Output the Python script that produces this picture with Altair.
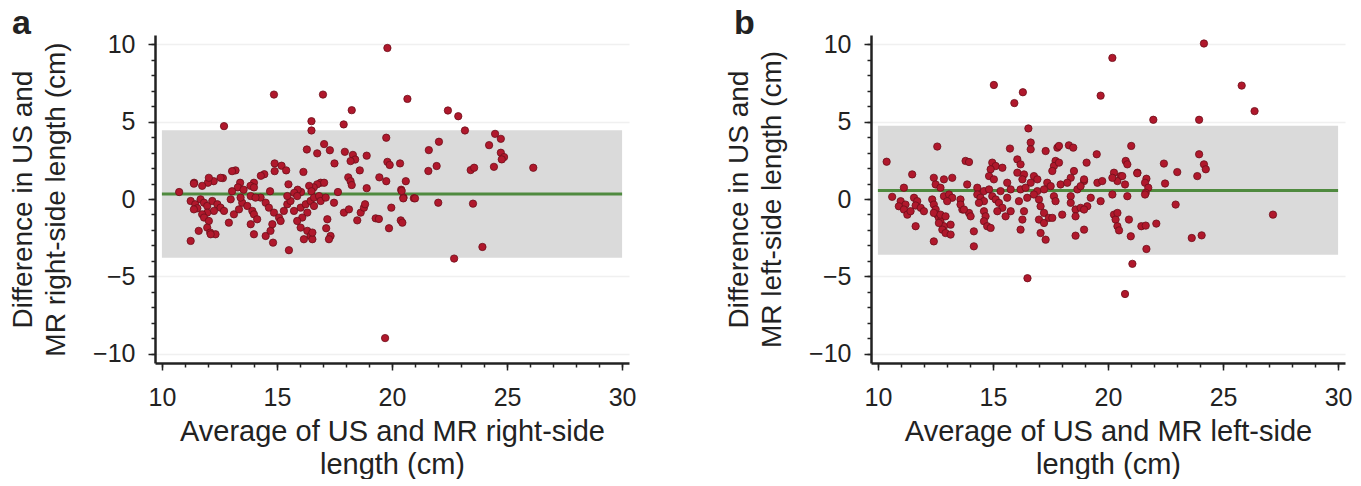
import altair as alt
import pandas as pd

# ---------------- data ----------------
a_x = [19.75,16.3,16.75,17.05,17.3,17.95,18.3,18.4,18.2,18.9,17.5,14.9,15.2,15.4,14.9,16.15,13.2,13.05,19.8,19.9,
       20.35,18.6,18.1,18.2,18.25,19.45,19.75,20.6,18.9,17.65,20.4,20.5,20.95,16.9,17.05,16.75,16.6,16.4,16.5,16.05,
       15.9,15.75,15.5,14.45,14.3,14.0,13.85,14.0,13.4,13.3,12.65,12.25,12.0,11.75,11.4,10.75,13.05,13.55,14.7,
       11.25,11.45,11.68,11.83,11.97,12.19,12.41,12.55,12.7,12.26,11.97,11.75,11.54,11.39,
       11.83,12.04,11.97,11.6,12.1,12.33,11.25,
       12.91,13.13,13.35,13.49,13.71,13.93,14.0,14.14,13.86,14.0,14.51,14.72,
       14.29,14.51,14.65,14.87,15.09,15.3,15.45,15.59,15.16,14.8,
       15.74,16.03,16.25,16.46,16.61,16.32,16.1,15.88,16.03,16.32,16.46,16.17,16.54,
       15.52,16.61,16.83,16.9,17.12,17.19,17.14,17.33,17.26,
       17.48,17.91,18.13,18.49,18.64,18.78,19.29,19.87,19.97,20.38,
       12.99,13.42,15.45,15.88,13.86,14.07,
       19.8,14.87,17.0,18.25,12.7,16.5,16.5,17.9,
       20.67,22.43,22.88,23.17,24.48,24.73,24.22,24.73,24.87,24.77,24.43,26.14,22.04,21.6,21.58,21.94,23.42,23.57,
       20.42,20.49,21.0,22.01,23.52,20.45,23.93,22.7,19.7,19.43,
       11.39,12.04,12.55,12.12,14.83,16.54,18.83]
a_y = [3.96,3.2,2.95,3.55,3.15,3.05,2.85,2.55,2.45,2.8,2.3,2.3,2.15,1.85,1.8,1.75,1.85,1.8,2.4,2.2,
       2.3,1.85,1.4,1.15,0.9,1.4,1.15,1.15,0.7,0.45,0.6,0.1,0.05,1.05,1.05,0.95,0.75,0.85,0.5,0.45,
       0.6,0.4,0.95,1.6,1.5,1.05,0.85,0.75,1.05,0.75,1.35,1.15,1.05,0.85,1.05,0.45,0.5,0.6,0.5,
       -0.13,-0.34,-0.02,-0.24,-0.45,-0.13,-0.34,-0.56,-0.77,-0.77,-0.88,-0.99,-0.6,-0.67,
       -1.2,-1.42,-1.85,-2.06,-2.17,-2.28,-2.71,
       -1.53,-0.99,-0.67,-0.24,-0.45,-0.77,-0.99,-1.31,-1.63,-2.28,-2.39,-2.06,
       0.09,-0.24,-0.56,-0.88,-1.2,-0.77,-0.34,-0.13,-1.42,-1.63,
       -0.77,-0.56,-0.34,-0.13,-0.45,-0.88,-1.2,-1.42,-1.85,-2.06,-2.39,-2.6,-2.6,
       -3.31,0.09,0.19,-0.13,0.09,-1.31,-1.89,-2.39,-2.6,
       -0.24,-0.88,-0.67,-1.38,-0.88,-0.56,-1.25,-1.89,-0.56,-1.38,
       -0.02,0.09,0.19,0.19,0.19,0.09,
       9.76,6.75,6.75,5.74,4.71,5.03,4.43,4.82,
       6.47,5.72,5.35,4.43,4.21,3.89,3.48,2.99,2.71,2.56,2.08,2.02,3.7,3.16,1.81,2.13,1.87,2.02,
       0.52,0.04,0.04,-0.24,-0.3,-1.53,-3.1,-3.85,-8.99,-1.29,
       0.99,1.37,1.37,-2.28,-2.82,-2.17,-0.34]

b_x = [16.54,12.58,10.38,15.74,16.64,16.64,17.29,17.8,18.3,18.49,19.51,21.01,13.81,13.96,14.97,15.12,14.9,14.83,15.04,15.41,
       16.06,16.2,16.06,16.35,16.28,16.78,16.93,16.64,17.72,17.65,17.58,17.87,18.52,18.38,19.07,20.26,20.55,20.41,20.77,20.84,
       21.28,11.49,12.43,12.87,13.23,12.51,12.72,11.13,13.88,14.32,15.62,15.77,15.33,17.36,17.51,17.94,18.23,18.96,19.54,19.75,
       20.19,14.61,14.83,16.2,16.42,16.93,17.22,18.67,18.81,
       10.62,10.99,11.2,10.91,11.13,11.28,11.42,11.57,11.71,11.64,11.86,12.0,11.64,
       12.36,12.43,12.51,12.58,12.65,12.72,12.87,12.8,12.94,13.16,13.16,12.43,
       12.87,13.09,13.23,13.01,13.59,13.67,13.96,14.03,14.17,14.17,
       14.32,14.46,14.61,14.39,14.61,14.68,14.61,14.75,14.9,
       14.97,15.12,15.26,15.41,15.19,15.55,15.77,15.62,
       16.13,16.28,16.2,16.35,16.49,
       16.78,17.0,17.07,17.22,17.0,17.22,17.07,17.29,17.43,
       17.65,17.58,17.72,18.01,
       18.38,18.38,18.59,18.59,18.81,19.1,18.96,18.59,
       19.25,19.68,
       20.26,20.33,20.41,20.91,20.84,20.99,21.45,21.06,
       12.43,12.72,12.94,12.65,13.59,13.74,
       15.04,15.93,16.3,20.19,24.17,19.68,25.81,26.37,21.97,23.96,22.43,23.01,23.96,24.17,24.25,23.88,21.27,21.67,22.48,20.62,
       20.74,17.87,18.96,21.61,21.75,21.64,
       20.19,20.41,20.48,21.64,22.1,21.67,20.74,21.61,22.94,23.64,24.07,27.17,16.5,18.96]
b_y = [4.56,3.39,2.41,3.26,3.65,3.21,3.1,3.32,3.47,3.32,2.89,3.43,2.46,2.39,2.35,2.13,1.92,1.48,1.27,2.02,
       2.56,2.24,1.7,1.59,1.27,1.48,1.27,1.05,2.46,2.13,1.81,2.35,1.81,1.37,2.35,1.7,1.48,1.16,2.46,2.24,
       1.7,1.59,1.37,1.27,1.37,0.94,0.73,0.73,0.94,0.73,1.05,0.62,0.51,1.05,0.83,0.94,1.05,1.16,1.05,1.16,
       1.37,0.51,0.62,0.62,0.73,0.51,0.62,0.62,0.83,
       0.14,-0.14,-0.36,-0.47,-0.68,-1.01,-0.79,0.08,-0.14,-0.42,-0.57,-0.79,-1.76,
       -0.03,-0.36,-0.68,-1.01,-1.22,-1.44,-1.76,-1.98,-2.2,-2.3,-1.66,-2.74,
       0.18,0.29,0.08,-0.14,-0.03,-0.68,-0.9,-1.12,-2.09,-3.06,
       0.29,0.08,-0.14,-0.25,-0.79,-1.12,-1.44,-1.76,-1.87,
       0.18,-0.03,-0.25,-0.57,-0.79,-1.12,-0.79,0.08,
       -0.14,-1.33,-1.98,-0.79,0.08,
       0.29,-0.03,-0.47,-0.9,-1.33,-1.55,-2.2,-2.63,-1.22,
       0.18,-1.22,-0.14,-1.01,
       0.18,-0.25,-0.68,-1.12,-0.57,-0.47,-1.98,-2.37,
       0.08,-0.14,
       -1.01,-1.33,-1.76,-1.33,0.18,-2.41,-1.76,-4.19,
       -0.9,-1.01,-1.12,-1.55,-0.36,-0.68,
       7.37,6.2,6.9,9.12,10.05,6.68,7.33,5.68,5.12,5.12,2.29,1.74,2.89,2.24,1.92,1.48,1.66,1.31,1.0,1.48,
       0.94,3.43,1.27,1.05,0.73,0.4,
       0.29,-0.9,-2.03,-1.72,-1.59,-3.23,-6.14,0.29,-0.36,-2.52,-2.35,-1.01,-5.12,-0.68]

# mean difference and limits of agreement
a_band = {"mean": 0.32, "lower": -3.8, "upper": 4.45}
b_band = {"mean": 0.55, "lower": -3.6, "upper": 4.73}
x_range = [10, 30]

x_minor = list(range(10, 31))
y_minor = list(range(-10, 11))
x_major = [10, 15, 20, 25, 30]
y_major = [-10, -5, 0, 5, 10]
y_grid = [-10, -5, 5, 10]

FONT = "Liberation Sans"
TXT = "#222222"
W, H = 474, 328
XDOM = [9.7, 30.3]
YDOM = [-10.6, 10.6]


def x_axis_major(title):
    return alt.Axis(
        orient="bottom", values=x_major, title=title, tickSize=7,
        tickColor=TXT, tickWidth=1.5, domainColor=TXT, domainWidth=2.5,
        labelFont=FONT, labelFontSize=25, labelColor=TXT, labelPadding=15,
        titleFont=FONT, titleFontSize=29, titleFontWeight="normal", titleColor=TXT,
        titlePadding=7, titleLineHeight=33, grid=False,
    )


def y_axis_major(title):
    return alt.Axis(
        orient="left", values=y_major, title=title, tickSize=7,
        tickColor=TXT, tickWidth=1.5, domainColor=TXT, domainWidth=2.5,
        labelFont=FONT, labelFontSize=25, labelColor=TXT, labelPadding=13,
        titleFont=FONT, titleFontSize=28, titleFontWeight="normal", titleColor=TXT,
        titlePadding=22, titleLineHeight=33, grid=False,
    )


def x_axis_minor():
    return alt.Axis(orient="bottom", values=x_minor, title=None, labels=False, tickSize=4,
                    tickColor=TXT, tickWidth=1.5, domain=False, grid=False)


def y_axis_minor():
    return alt.Axis(orient="left", values=y_minor, title=None, labels=False, tickSize=4,
                    tickColor=TXT, tickWidth=1.5, domain=False, grid=False)


def y_axis_grid():
    return alt.Axis(orient="left", values=y_grid, title=None, labels=False, ticks=False,
                    domain=False, grid=True, gridColor="#f0f0f0", gridWidth=1.5)


def panel(xs, ys, band, xtitle, ytitle, letter, dx):
    pts = pd.DataFrame({"x": xs, "y": ys})
    bdf = pd.DataFrame({"x0": [x_range[0]], "x1": [x_range[1]],
                        "lo": [band["lower"]], "hi": [band["upper"]], "m": [band["mean"]]})
    xs_ = alt.Scale(domain=XDOM, nice=False, zero=False)
    ys_ = alt.Scale(domain=YDOM, nice=False, zero=False)
    gridl = alt.Chart(bdf).mark_rule(opacity=0).encode(
        x=alt.X("x0:Q", scale=xs_, axis=None),
        y=alt.Y("m:Q", scale=ys_, axis=y_axis_grid()))
    rect = alt.Chart(bdf).mark_rect(color="#dadada").encode(
        x=alt.X("x0:Q", scale=xs_, axis=x_axis_minor()), x2="x1:Q",
        y=alt.Y("lo:Q", scale=ys_, axis=y_axis_minor()), y2="hi:Q")
    rule = alt.Chart(bdf).mark_rule(color="#4f8a3f", strokeWidth=3).encode(
        x=alt.X("x0:Q", scale=xs_, axis=None), x2="x1:Q",
        y=alt.Y("m:Q", scale=ys_, axis=None))
    dots = alt.Chart(pts).mark_circle(size=54, opacity=1, color="#b0182c",
                                      stroke="#6d0f1b", strokeWidth=0.8).encode(
        x=alt.X("x:Q", scale=xs_, axis=x_axis_major(xtitle)),
        y=alt.Y("y:Q", scale=ys_, axis=y_axis_major(ytitle)))
    return alt.layer(gridl, rect, rule, dots).resolve_axis(x="independent", y="independent").properties(
        width=W, height=H,
        title=alt.TitleParams(letter, anchor="start", frame="group", dx=dx, dy=9, offset=0,
                              font=FONT, fontSize=34, fontWeight="bold", color=TXT),
    )


pa = panel(a_x, a_y, a_band, ["Average of US and MR right-side", "length (cm)"],
           ["Difference in US and", "MR right-side length (cm)"], "a", -143)
pb = panel(b_x, b_y, b_band, ["Average of US and MR left-side", "length (cm)"],
           ["Difference in US and", "MR left-side length (cm)"], "b", -137)

chart = alt.hconcat(pa, pb, spacing=242, bounds="flush").properties(
    padding={"left": 9, "top": 7, "right": 0, "bottom": 0},
    background="white",
).configure_view(stroke=None)

chart.save("out.html", embed_options={"renderer": "svg", "actions": False})
